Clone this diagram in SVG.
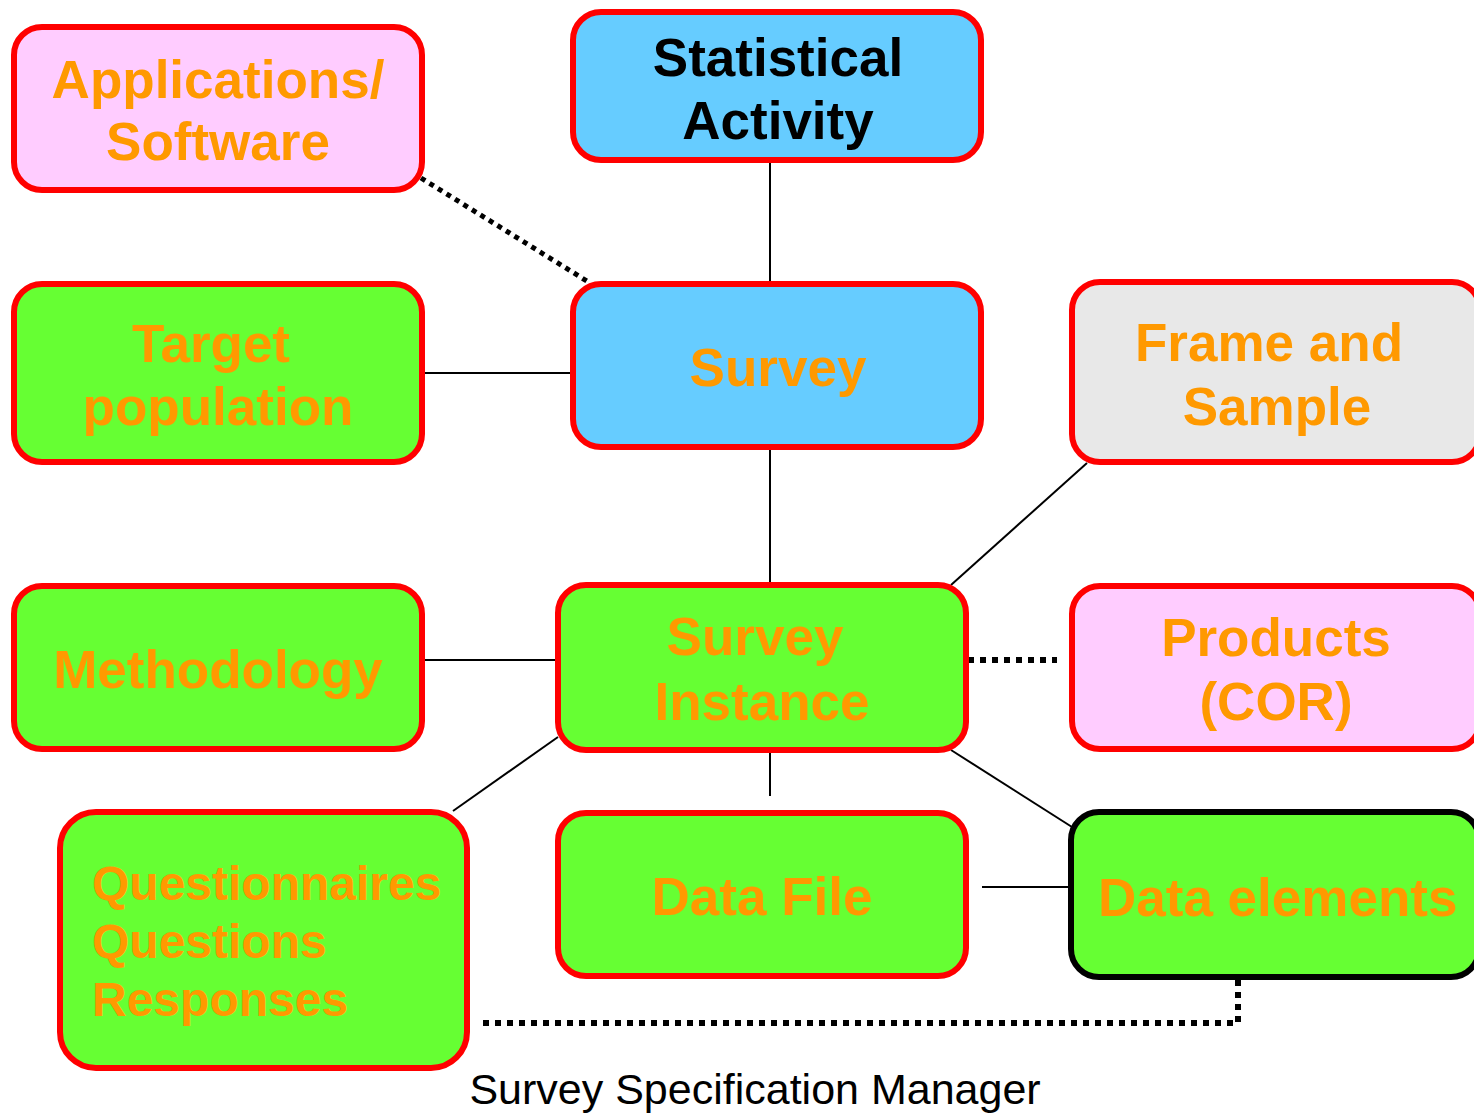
<svg xmlns="http://www.w3.org/2000/svg" width="1474" height="1114" viewBox="0 0 1474 1114">
<style>
.box{stroke:#FF0000;stroke-width:6}
.blue{fill:#66CCFF}
.green{fill:#66FF33}
.pink{fill:#FFCCFF}
.gray{fill:#E8E8E8}
.t{font-family:"Liberation Sans",Arial,sans-serif;font-weight:bold;font-size:53px;fill:#FF9900;text-anchor:middle}
.k{fill:#000000}
.ln{stroke:#000;stroke-width:2;fill:none}
.dot{stroke:#000;stroke-width:6;fill:none;stroke-dasharray:6 6}
</style>
<rect width="1474" height="1114" fill="#FFFFFF"/>
<g id="connectors">
<line class="ln" x1="770" y1="161" x2="770" y2="283"/>
<line class="dot" x1="421" y1="178" x2="590" y2="283" style="stroke-width:5;stroke-dasharray:5 5"/>
<line class="ln" x1="423" y1="373" x2="573" y2="373"/>
<line class="ln" x1="770" y1="448" x2="770" y2="585"/>
<line class="ln" x1="1087" y1="463" x2="951" y2="585"/>
<line class="ln" x1="423" y1="660" x2="558" y2="660"/>
<line class="dot" x1="968" y1="660" x2="1057" y2="660"/>
<line class="ln" x1="558" y1="737" x2="453" y2="811"/>
<line class="ln" x1="770" y1="750" x2="770" y2="796"/>
<line class="ln" x1="951" y1="750" x2="1072" y2="827"/>
<line class="ln" x1="982" y1="887" x2="1072" y2="887"/>
<polyline class="dot" points="483,1023 1238,1023 1238,980"/>
</g>
<g id="applications">
<rect class="box pink" x="14" y="27" width="408" height="163" rx="28"/>
<text class="t" x="218" y="98">Applications/</text>
<text class="t" x="218" y="160">Software</text>
</g>
<g id="statistical-activity">
<rect class="box blue" x="573" y="12" width="408" height="148" rx="28"/>
<text class="t k" x="778" y="76">Statistical</text>
<text class="t k" x="778" y="139">Activity</text>
</g>
<g id="target-population">
<rect class="box green" x="14" y="284" width="408" height="178" rx="28"/>
<text class="t" x="211" y="362">Target</text>
<text class="t" x="218" y="425">population</text>
</g>
<g id="survey">
<rect class="box blue" x="573" y="284" width="408" height="163" rx="28"/>
<text class="t" x="778" y="386">Survey</text>
</g>
<g id="frame-and-sample">
<rect class="box gray" x="1072" y="282" width="408" height="180" rx="28"/>
<text class="t" x="1269" y="361">Frame and</text>
<text class="t" x="1277" y="425">Sample</text>
</g>
<g id="methodology">
<rect class="box green" x="14" y="586" width="408" height="163" rx="28"/>
<text class="t" x="218" y="688">Methodology</text>
</g>
<g id="survey-instance">
<rect class="box green" x="558" y="585" width="408" height="165" rx="28"/>
<text class="t" x="755" y="655">Survey</text>
<text class="t" x="762" y="720">Instance</text>
</g>
<g id="products">
<rect class="box pink" x="1072" y="586" width="408" height="163" rx="28"/>
<text class="t" x="1276" y="656">Products</text>
<text class="t" x="1276" y="720">(COR)</text>
</g>
<g id="questionnaires">
<rect class="box green" x="60" y="812" width="407" height="256" rx="36"/>
<text class="t" x="92" y="900" style="text-anchor:start;font-size:48px">Questionnaires</text>
<text class="t" x="92" y="958" style="text-anchor:start;font-size:48px">Questions</text>
<text class="t" x="92" y="1016" style="text-anchor:start;font-size:48px">Responses</text>
</g>
<g id="data-file">
<rect class="box green" x="558" y="813" width="408" height="163" rx="28"/>
<text class="t" x="762" y="915">Data File</text>
</g>
<g id="data-elements">
<rect class="box green" x="1071" y="812" width="408" height="165" rx="28" style="stroke:#000"/>
<text class="t" x="1098" y="916" style="text-anchor:start">Data elements</text>
</g>
<text x="755" y="1104" font-family="Liberation Sans, Arial, sans-serif" font-size="43" text-anchor="middle" fill="#000">Survey Specification Manager</text>
</svg>
